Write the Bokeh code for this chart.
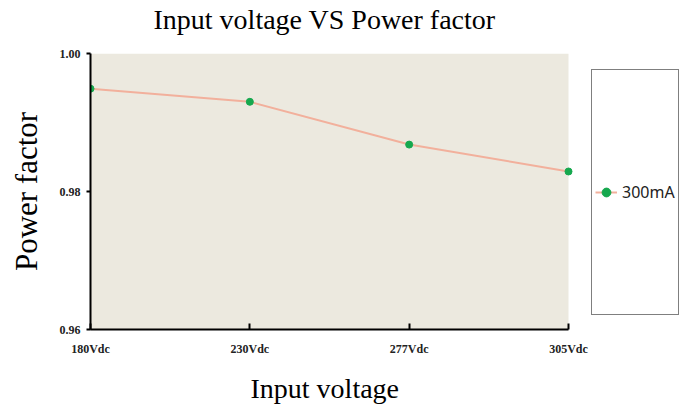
from bokeh.plotting import figure
from bokeh.models import (Range1d, FixedTicker, Legend, LegendItem, ColumnDataSource,
                          BoxAnnotation, Title, LinearAxis)
from bokeh.embed import file_html
from bokeh.resources import INLINE

categories = ["180Vdc", "230Vdc", "277Vdc", "305Vdc"]
power_factor = [0.9949, 0.9930, 0.9868, 0.9829]
y_ticks = [0.96, 0.98, 1.00]
series_name = "300mA"

xs = list(range(len(categories)))
last = len(categories) - 1
src = ColumnDataSource(dict(x=xs, y=power_factor))

# frame extends past the last category to hold the legend box
p = figure(width=688, height=410, output_backend="svg", toolbar_location=None,
           x_range=Range1d(0, last * 590 / 478), y_range=Range1d(0.96, 1.00),
           min_border_left=90, min_border_right=8, min_border_top=53, min_border_bottom=81)

xaxis = p.xaxis[0]
yaxis = p.yaxis[0]

p.background_fill_color = "white"
p.border_fill_color = "white"
p.outline_line_color = None
p.grid.visible = False

# plot-area fill only over the category span
p.add_layout(BoxAnnotation(left=0, right=last, fill_color="#ECE9DF", fill_alpha=1.0,
                           line_color=None, level="underlay"))

serif = "Liberation Serif"


def spacer(gap):
    # invisible axis used only to reserve vertical space in a side panel
    return LinearAxis(ticker=FixedTicker(ticks=[0]), axis_line_color=None,
                      major_tick_line_color=None, minor_tick_line_color=None,
                      major_tick_in=0, major_tick_out=gap, major_label_standoff=0,
                      major_label_text_color=None, major_label_text_font_size="1px")


p.title.text = "Input voltage VS Power factor"
p.title.text_font = serif
p.title.text_font_size = "28px"
p.title.text_font_style = "normal"
p.title.text_color = "black"
p.title.align = "left"
p.title.offset = 63
p.title.standoff = 0

for ax in (xaxis, yaxis):
    ax.axis_line_color = "black"
    ax.axis_line_width = 2
    ax.major_tick_line_color = "black"
    ax.major_tick_line_width = 2
    ax.minor_tick_line_color = None
    ax.major_label_text_font = serif
    ax.major_label_text_font_style = "bold"
    ax.major_label_text_font_size = "12px"
    ax.major_label_text_color = "#222222"
    ax.axis_label_text_font = serif
    ax.axis_label_text_font_style = "normal"
    ax.axis_label_text_color = "black"

xaxis.bounds = (0, last)
xaxis.ticker = FixedTicker(ticks=xs)
xaxis.major_label_overrides = {i: c for i, c in enumerate(categories)}
xaxis.major_tick_in = 6
xaxis.major_tick_out = 0
xaxis.major_label_standoff = 12

yaxis.ticker = FixedTicker(ticks=y_ticks)
yaxis.major_label_overrides = {0.96: "0.96", 0.98: "0.98", 1.0: "1.00"}
yaxis.major_tick_in = 0
yaxis.major_tick_out = 4
yaxis.major_label_standoff = 6
yaxis.axis_label = "Power factor"
yaxis.axis_label_text_font_size = "31px"
yaxis.axis_label_standoff = 13

p.add_layout(spacer(19), "above")
p.add_layout(spacer(12), "below")
xlabel = Title(text="Input voltage", align="left", offset=160,
               text_font=serif, text_font_size="28px", text_font_style="normal",
               text_color="black", standoff=0)
p.add_layout(xlabel, "below")

ln = p.line("x", "y", source=src, line_color="#F2B09C", line_width=2)
sc = p.scatter("x", "y", source=src, marker="circle", size=7,
               fill_color="#16A84E", line_color="#16A84E")

legend = Legend(items=[LegendItem(label=series_name, renderers=[ln, sc])],
                location=(501, 14), margin=0, padding=3,
                glyph_width=22, glyph_height=238, label_standoff=5,
                label_text_font="Noto Sans", label_text_font_size="16px",
                label_text_color="#222222",
                border_line_color="black", border_line_width=1,
                background_fill_color="white", background_fill_alpha=1.0)
p.add_layout(legend, "center")

open("out.html", "w").write(file_html(p, INLINE))
